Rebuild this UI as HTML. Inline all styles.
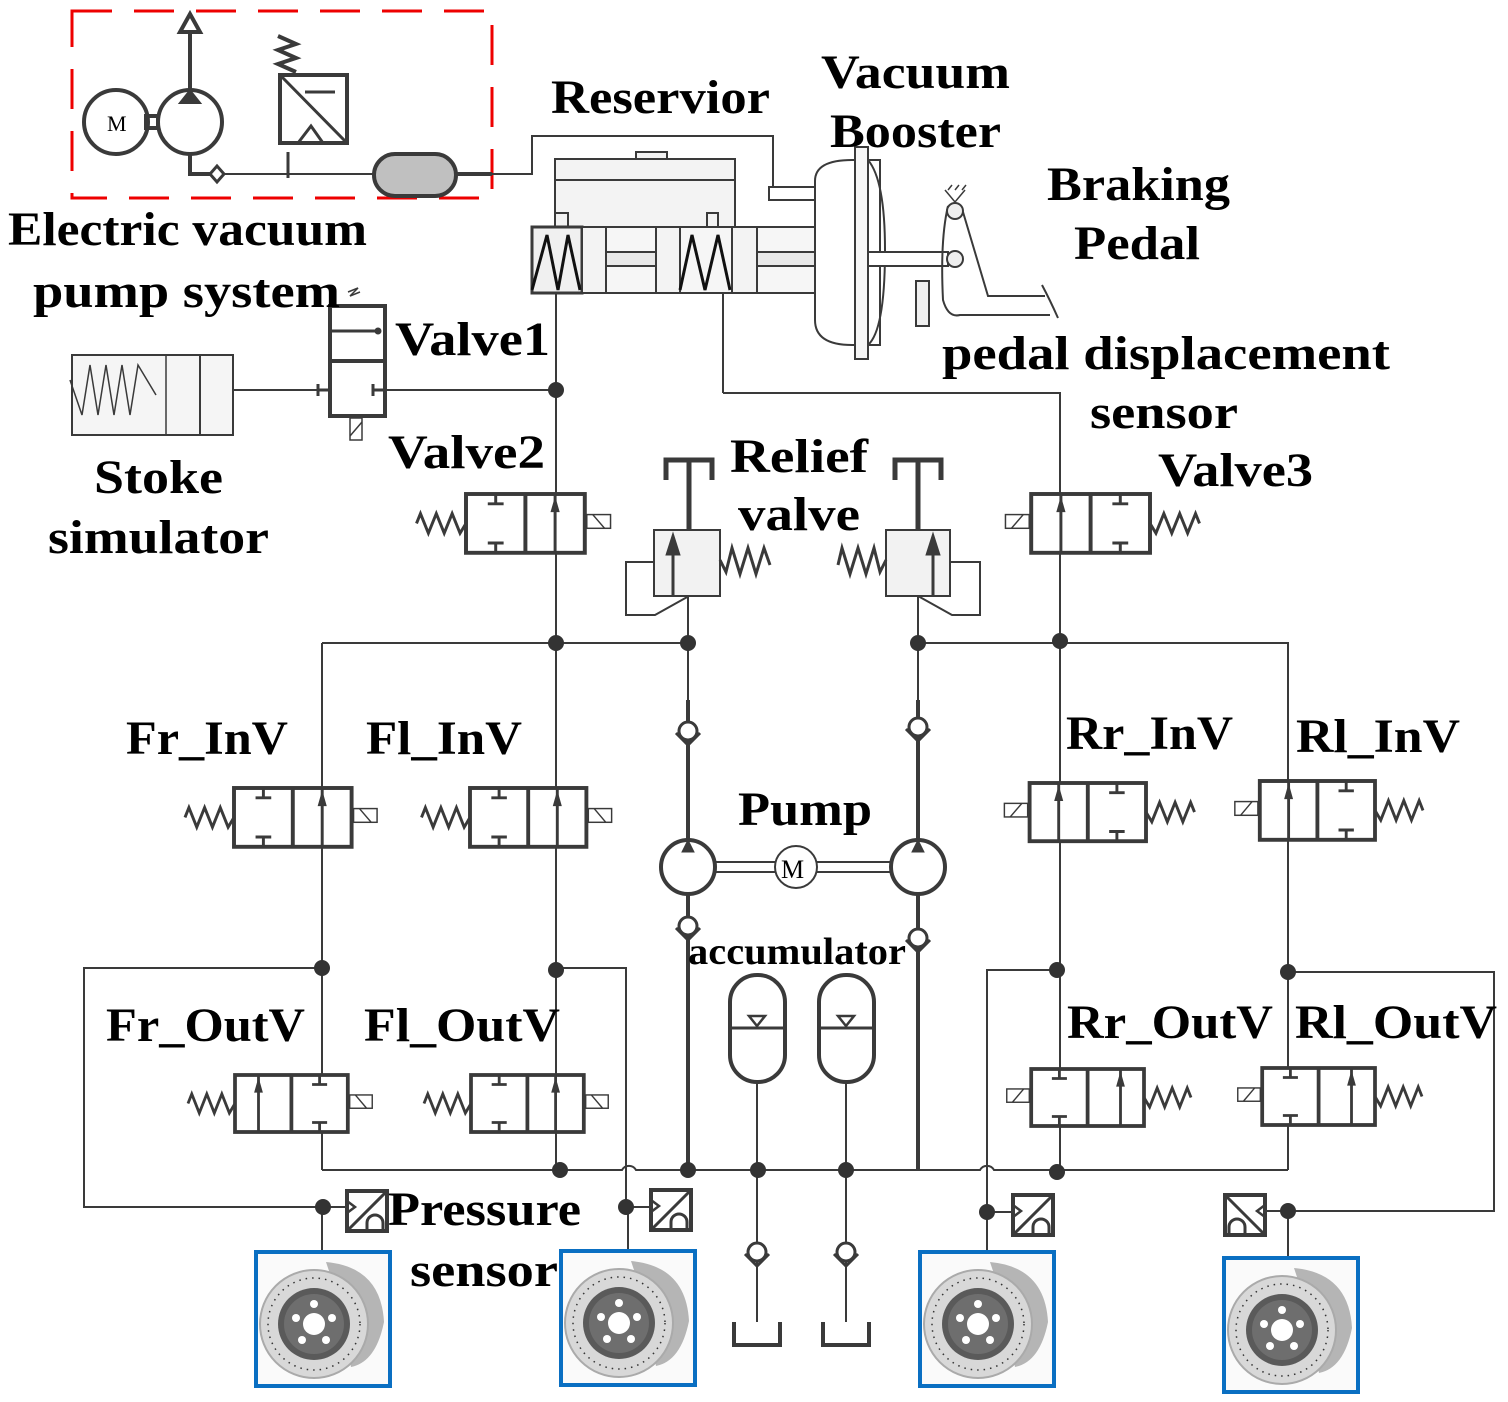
<!DOCTYPE html>
<html><head><meta charset="utf-8"><style>
html,body{margin:0;padding:0;background:#fff}
svg{display:block}
text{font-family:"Liberation Serif",serif;font-weight:bold;fill:#000;font-size:48px}
</style></head><body>
<svg width="1508" height="1402" viewBox="0 0 1508 1402" xmlns="http://www.w3.org/2000/svg">
<defs>
<g id="va" stroke="#3a3a3a" fill="none">
<rect x="0" y="0" width="120" height="60" stroke-width="4" fill="#fff"/>
<line x1="60" y1="0" x2="60" y2="60" stroke-width="4"/>
<path d="M30 0V10M22 10H38M30 60V50M22 50H38" stroke-width="3"/>
<line x1="90" y1="0" x2="90" y2="60" stroke-width="3"/>
<path d="M86 18L90 4L94 18Z" fill="#3a3a3a"/>
<path d="M0 30L-6 40L-14 20L-22 40L-30 20L-38 40L-46 20L-50 30" stroke-width="3"/>
<rect x="122" y="21" width="24" height="14" stroke-width="1.5"/>
<line x1="128" y1="21" x2="140" y2="35" stroke-width="1.5"/>
</g>
<g id="vb" stroke="#3a3a3a" fill="none">
<rect x="0" y="0" width="120" height="60" stroke-width="4" fill="#fff"/>
<line x1="60" y1="0" x2="60" y2="60" stroke-width="4"/>
<path d="M90 0V10M82 10H98M90 60V50M82 50H98" stroke-width="3"/>
<line x1="25" y1="0" x2="25" y2="60" stroke-width="3"/>
<path d="M21 18L25 4L29 18Z" fill="#3a3a3a"/>
<path d="M0 30L-6 40L-14 20L-22 40L-30 20L-38 40L-46 20L-50 30" stroke-width="3"/>
<rect x="122" y="21" width="24" height="14" stroke-width="1.5"/>
<line x1="128" y1="21" x2="140" y2="35" stroke-width="1.5"/>
</g>
<g id="brake">
<rect x="0" y="0" width="134" height="134" fill="#fafafa" stroke="#0a6fc2" stroke-width="4"/>
<path d="M70 10 Q125 15 128 70 Q120 110 95 115 L80 40Z" fill="#b5b5b5"/>
<circle cx="58" cy="72" r="54" fill="#d8d8d8" stroke="#aaa" stroke-width="2"/>
<circle cx="58" cy="72" r="36" fill="#5a5a5a"/>
<circle cx="58" cy="72" r="30" fill="#6e6e6e"/>
<circle cx="58" cy="72" r="11" fill="#fff"/>
<circle cx="58" cy="52" r="4" fill="#fff"/><circle cx="76" cy="66" r="4" fill="#fff"/><circle cx="70" cy="88" r="4" fill="#fff"/><circle cx="46" cy="88" r="4" fill="#fff"/><circle cx="40" cy="66" r="4" fill="#fff"/>
<circle cx="58" cy="72" r="46" fill="none" stroke="#333" stroke-width="1.5" stroke-dasharray="1.5 5"/>
</g>
<g id="ps" stroke="#3a3a3a" fill="none" stroke-width="4">
<rect x="0" y="0" width="40" height="40" fill="#fff"/>
<line x1="2" y1="38" x2="38" y2="2" stroke-width="3"/>
<path d="M0 10L8 16L0 22" stroke-width="2.5"/>
<path d="M20 40V32A8 8 0 0 1 36 32V40" stroke-width="3"/>
</g>
<g id="chk" stroke="#3a3a3a" fill="none" stroke-width="3">
<circle cx="0" cy="0" r="9" fill="#fff"/>
<path d="M-12 2L0 14L12 2"/>
</g>
</defs>

<rect x="72" y="11" width="420" height="187" fill="none" stroke="#e00" stroke-width="3" stroke-dasharray="40 22"/>
<g stroke="#3a3a3a" stroke-width="4" fill="none">
<circle cx="116" cy="122" r="32"/>
<circle cx="190" cy="122" r="32"/>
<rect x="146" y="116" width="12" height="12"/>
<line x1="190" y1="90" x2="190" y2="30"/>
<path d="M180 32L190 14L200 32Z" fill="#fff"/>
<path d="M182 102L190 92L198 102Z" fill="#3a3a3a"/>
<path d="M190 154V174H210"/>
<path d="M210 174L217 166L224 174L217 182Z" fill="#fff" stroke-width="3"/>
<rect x="280" y="75" width="67" height="68"/>
<line x1="282" y1="77" x2="345" y2="141" stroke-width="3"/>
<path d="M298 143L311 126L323 143" stroke-width="3"/>
<path d="M296 72L278 64L296 58L278 50L296 44L278 36" stroke-width="4"/>
<path d="M305 92h30" stroke-width="3"/>
<line x1="288" y1="152" x2="288" y2="178" stroke-width="3"/>
</g>
<text x="107" y="131" style="font-size:22px;font-weight:normal">M</text>
<line x1="224" y1="174" x2="374" y2="174" stroke="#3a3a3a" stroke-width="2"/>
<rect x="374" y="154" width="82" height="42" rx="21" fill="#c0c0c0" stroke="#3a3a3a" stroke-width="4"/>
<line x1="456" y1="174" x2="492" y2="174" stroke="#3a3a3a" stroke-width="4"/>
<path d="M492 174H532V136H773V187H790" fill="none" stroke="#3a3a3a" stroke-width="2"/>

<g stroke="#3a3a3a" fill="#f3f3f3" stroke-width="2">
<rect x="636" y="152" width="31" height="7"/>
<rect x="555" y="159" width="180" height="68"/>
<line x1="555" y1="180" x2="735" y2="180"/>
<rect x="555" y="213" width="13" height="14"/>
<rect x="707" y="213" width="11" height="14"/>
<rect x="532" y="227" width="283" height="66" fill="#f6f6f6"/>
<rect x="532" y="227" width="50" height="66" fill="#f0f0f0" stroke-width="3"/>
<rect x="582" y="227" width="24" height="66"/>
<rect x="656" y="227" width="24" height="66"/>
<rect x="732" y="227" width="25" height="66"/>
<rect x="606" y="252" width="50" height="14" fill="#e8e8e8"/>
<rect x="757" y="252" width="58" height="14" fill="#e8e8e8"/>
<rect x="769" y="187" width="46" height="13" fill="#fff"/>
</g>
<path d="M532 290L547 235L558 290L568 235L580 290M680 290L692 235L705 290L718 235L730 290" fill="none" stroke="#111" stroke-width="3"/>
<path d="M815 181Q815 160 852 160L880 160L880 345L852 345Q815 345 815 320Z" fill="#fff" stroke="#3a3a3a" stroke-width="2"/>
<path d="M868 160Q885 180 885 250Q885 330 868 345" fill="none" stroke="#3a3a3a" stroke-width="2"/>
<rect x="855" y="147" width="13" height="212" fill="#f6f6f6" stroke="#3a3a3a" stroke-width="2"/>
<rect x="868" y="252" width="80" height="14" fill="#fff" stroke="#3a3a3a" stroke-width="2"/>
<rect x="916" y="281" width="13" height="45" fill="#f0f0f0" stroke="#3a3a3a" stroke-width="2"/>
<g stroke="#3a3a3a" fill="none" stroke-width="2">
<path d="M948 206Q940 240 943 300Q948 318 960 315L1050 315"/>
<path d="M963 212L988 296H1045"/>
<circle cx="955" cy="211" r="8" fill="#eee"/>
<circle cx="955" cy="259" r="8" fill="#eee"/>
<path d="M945 190L955 202L965 190M948 190l4-5M955 190l4-5M962 190l4-5" stroke-width="1.5"/>
<path d="M1042 285Q1050 300 1058 318"/>
</g>

<g stroke="#3a3a3a" fill="none" stroke-width="2">
<line x1="556" y1="293" x2="556" y2="1170"/>
<line x1="723" y1="293" x2="723" y2="393"/>
<path d="M723 393H1060V1172"/>
<line x1="234" y1="390" x2="330" y2="390"/>
<line x1="385" y1="390" x2="556" y2="390"/>
<path d="M322 643H688"/>
<path d="M918 643H1288V1170"/>
<line x1="322" y1="643" x2="322" y2="1170"/>
<path d="M322 1170H622A8 8 0 0 1 636 1170H980A8 8 0 0 1 994 1170H1288"/>
<path d="M322 968H84V1207H346"/>
<path d="M556 968H626V1207H650"/>
<path d="M628 1207V1252"/>
<path d="M1057 970H987V1212H1014"/>
<path d="M987 1212V1252"/>
<path d="M1288 972H1494V1211H1266"/>
<path d="M1288 1211V1258"/>
<path d="M322 1207V1252"/>
<line x1="688" y1="580" x2="688" y2="1170"/>
<line x1="918" y1="580" x2="918" y2="1170"/>
<line x1="757" y1="1082" x2="757" y2="1322"/>
<line x1="846" y1="1082" x2="846" y2="1322"/>
</g>
<g stroke="#3a3a3a" fill="none" stroke-width="4">
<line x1="688" y1="700" x2="688" y2="1170"/>
<line x1="918" y1="700" x2="918" y2="1170"/>
</g>

<g stroke="#3a3a3a" fill="none">
<rect x="72" y="355" width="161" height="80" fill="#f5f5f5" stroke-width="2"/>
<line x1="166" y1="355" x2="166" y2="435" stroke-width="1.5"/>
<line x1="200" y1="355" x2="200" y2="435" stroke-width="2"/>
<path d="M70 380L82 415L90 365L98 415L106 365L114 415L122 365L130 415L138 365L156 395" stroke-width="1.5"/>
<rect x="330" y="306" width="55" height="110" fill="#fff" stroke-width="4"/>
<line x1="330" y1="361" x2="385" y2="361" stroke-width="4"/>
<path d="M330 331H347M347 331H378" stroke-width="3"/>
<circle cx="378" cy="331" r="3" fill="#3a3a3a"/>
<path d="M330 390H318M318 384V396M385 390H373M373 384V396" stroke-width="3"/>
<rect x="350" y="418" width="12" height="22" stroke-width="1.5"/>
<line x1="350" y1="436" x2="362" y2="422" stroke-width="1.5"/>
<path d="M348 292l10 -4-8 8 10 -4" stroke-width="1.5"/>
</g>

<use href="#va" transform="translate(466,494) scale(0.99,0.98)"/>
<use href="#va" transform="translate(1150,494) scale(-0.99,0.98)"/>
<use href="#va" transform="translate(234,788) scale(0.98,0.98)"/>
<use href="#va" transform="translate(470,788) scale(0.97,0.98)"/>
<use href="#va" transform="translate(1146,783) scale(-0.97,0.97)"/>
<use href="#va" transform="translate(1375,781) scale(-0.96,0.98)"/>
<use href="#vb" transform="translate(235,1075) scale(0.94,0.95)"/>
<use href="#va" transform="translate(471,1075) scale(0.94,0.95)"/>
<use href="#vb" transform="translate(1144,1069) scale(-0.94,0.95)"/>
<use href="#vb" transform="translate(1375,1068) scale(-0.94,0.95)"/>

<g stroke="#3a3a3a" fill="none">
<path d="M666 480V460H712V480M689 460V530" stroke-width="5"/>
<rect x="654" y="530" width="66" height="66" fill="#f2f2f2" stroke-width="2"/>
<line x1="673" y1="596" x2="673" y2="548" stroke-width="3"/>
<path d="M666 555L673 533L680 555Z" fill="#3a3a3a"/>
<path d="M654 562H626V615H655L689 596" stroke-width="2"/>
<path d="M720 560L726 572L732 548L740 574L748 548L756 574L764 548L770 565" stroke-width="3"/>
<path d="M895 480V460H941V480M918 460V530" stroke-width="5"/>
<rect x="886" y="530" width="64" height="66" fill="#f2f2f2" stroke-width="2"/>
<line x1="933" y1="596" x2="933" y2="548" stroke-width="3"/>
<path d="M926 555L933 533L940 555Z" fill="#3a3a3a"/>
<path d="M950 562H980V615H952L918 596" stroke-width="2"/>
<path d="M886 560L880 572L874 548L866 574L858 548L850 574L842 548L838 565" stroke-width="3"/>
</g>
<use href="#chk" transform="translate(688,731)"/>
<use href="#chk" transform="translate(918,727)"/>
<use href="#chk" transform="translate(688,926)"/>
<use href="#chk" transform="translate(918,938)"/>

<g stroke="#3a3a3a" fill="#fff">
<line x1="715" y1="862" x2="891" y2="862" stroke-width="2"/>
<line x1="715" y1="872" x2="891" y2="872" stroke-width="2"/>
<circle cx="688" cy="867" r="27" stroke-width="4"/>
<circle cx="918" cy="867" r="27" stroke-width="4"/>
<circle cx="796" cy="867" r="21" stroke-width="2"/>
<path d="M682 852L688 840L694 852Z" fill="#3a3a3a"/>
<path d="M912 852L918 840L924 852Z" fill="#3a3a3a"/>
</g>
<text x="781" y="878" style="font-size:26px;font-weight:normal">M</text>

<g stroke="#3a3a3a" fill="#fff" stroke-width="4">
<rect x="730" y="975" width="55" height="107" rx="27"/>
<rect x="819" y="975" width="55" height="107" rx="27"/>
<line x1="730" y1="1028" x2="785" y2="1028" stroke-width="3"/>
<line x1="819" y1="1028" x2="874" y2="1028" stroke-width="3"/>
<path d="M749 1016L757 1026L765 1016Z" stroke-width="2.5"/>
<path d="M838 1016L846 1026L854 1016Z" stroke-width="2.5"/>
</g>
<use href="#chk" transform="translate(757,1252)"/>
<use href="#chk" transform="translate(846,1252)"/>
<g stroke="#3a3a3a" fill="none" stroke-width="4">
<path d="M734 1322V1345H780V1322"/>
<path d="M823 1322V1345H869V1322"/>
</g>

<g fill="#333">
<circle cx="556" cy="390" r="8"/><circle cx="556" cy="643" r="8"/><circle cx="688" cy="643" r="8"/>
<circle cx="918" cy="643" r="8"/><circle cx="1060" cy="641" r="8"/>
<circle cx="322" cy="968" r="8"/><circle cx="556" cy="970" r="8"/><circle cx="1057" cy="970" r="8"/><circle cx="1288" cy="972" r="8"/>
<circle cx="560" cy="1170" r="8"/><circle cx="688" cy="1170" r="8"/><circle cx="758" cy="1170" r="8"/><circle cx="846" cy="1170" r="8"/><circle cx="1057" cy="1172" r="8"/>
<circle cx="323" cy="1207" r="8"/><circle cx="626" cy="1207" r="8"/><circle cx="987" cy="1212" r="8"/><circle cx="1288" cy="1211" r="8"/>
</g>

<use href="#ps" transform="translate(347,1191)"/>
<use href="#ps" transform="translate(651,1190)"/>
<use href="#ps" transform="translate(1013,1195)"/>
<use href="#ps" transform="translate(1265,1195) scale(-1,1)"/>

<use href="#brake" transform="translate(256,1252)"/>
<use href="#brake" transform="translate(561,1251)"/>
<use href="#brake" transform="translate(920,1252)"/>
<use href="#brake" transform="translate(1224,1258)"/>

<text x="551" y="113" textLength="219" lengthAdjust="spacingAndGlyphs">Reservior</text>
<text x="821" y="88" textLength="189" lengthAdjust="spacingAndGlyphs">Vacuum</text>
<text x="830" y="147" textLength="171" lengthAdjust="spacingAndGlyphs">Booster</text>
<text x="1047" y="200" textLength="183" lengthAdjust="spacingAndGlyphs">Braking</text>
<text x="1074" y="259" textLength="126" lengthAdjust="spacingAndGlyphs">Pedal</text>
<text x="8" y="245" textLength="359" lengthAdjust="spacingAndGlyphs">Electric vacuum</text>
<text x="33" y="307" textLength="307" lengthAdjust="spacingAndGlyphs">pump system</text>
<text x="395" y="355" textLength="155" lengthAdjust="spacingAndGlyphs">Valve1</text>
<text x="942" y="369" textLength="448" lengthAdjust="spacingAndGlyphs">pedal displacement</text>
<text x="1090" y="428" textLength="148" lengthAdjust="spacingAndGlyphs">sensor</text>
<text x="388" y="468" textLength="157" lengthAdjust="spacingAndGlyphs">Valve2</text>
<text x="730" y="472" textLength="138" lengthAdjust="spacingAndGlyphs">Relief</text>
<text x="738" y="530" textLength="122" lengthAdjust="spacingAndGlyphs">valve</text>
<text x="1158" y="486" textLength="155" lengthAdjust="spacingAndGlyphs">Valve3</text>
<text x="94" y="493" textLength="129" lengthAdjust="spacingAndGlyphs">Stoke</text>
<text x="48" y="553" textLength="221" lengthAdjust="spacingAndGlyphs">simulator</text>
<text x="126" y="754" textLength="162" lengthAdjust="spacingAndGlyphs">Fr_InV</text>
<text x="366" y="754" textLength="156" lengthAdjust="spacingAndGlyphs">Fl_InV</text>
<text x="1066" y="749" textLength="167" lengthAdjust="spacingAndGlyphs">Rr_InV</text>
<text x="1296" y="752" textLength="164" lengthAdjust="spacingAndGlyphs">Rl_InV</text>
<text x="738" y="825" textLength="134" lengthAdjust="spacingAndGlyphs">Pump</text>
<text x="688" y="964" style="font-size:38px" textLength="218" lengthAdjust="spacingAndGlyphs">accumulator</text>
<text x="106" y="1041" textLength="199" lengthAdjust="spacingAndGlyphs">Fr_OutV</text>
<text x="364" y="1041" textLength="196" lengthAdjust="spacingAndGlyphs">Fl_OutV</text>
<text x="1067" y="1038" textLength="206" lengthAdjust="spacingAndGlyphs">Rr_OutV</text>
<text x="1295" y="1038" textLength="202" lengthAdjust="spacingAndGlyphs">Rl_OutV</text>
<text x="388" y="1225" textLength="193" lengthAdjust="spacingAndGlyphs">Pressure</text>
<text x="410" y="1286" textLength="148" lengthAdjust="spacingAndGlyphs">sensor</text>
</svg>
</body></html>
